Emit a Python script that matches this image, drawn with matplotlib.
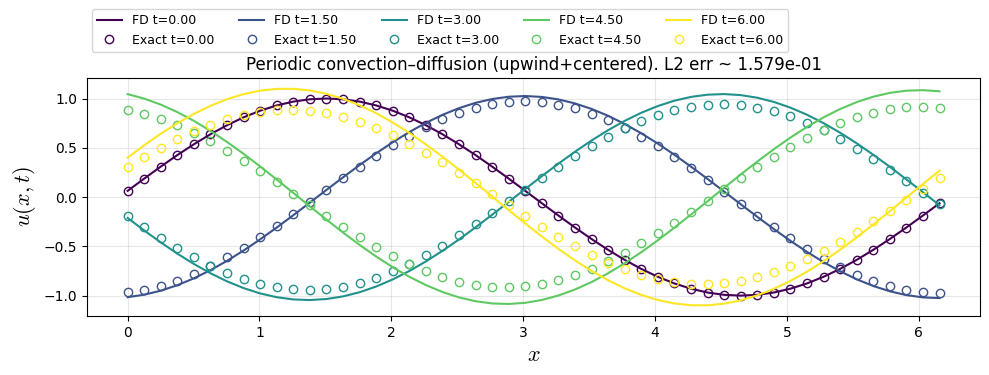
import numpy as np
import matplotlib
matplotlib.use("Agg")
import matplotlib.pyplot as plt

plt.rcParams['mathtext.fontset'] = 'cm'

# grid: 50 points on [0, 2pi)
n_pts = 50
x = np.arange(n_pts) * (2 * np.pi / n_pts)

times = [0.0, 1.5, 3.0, 4.5, 6.0]

# values, first half of the period (i = 0..24);
# second half (i = 25..49) is the same with the sign flipped
exact_half = {
    0.0: [0.0628, 0.1874, 0.3090, 0.4258, 0.5358, 0.6374, 0.7290, 0.8090, 0.8763,
          0.9298, 0.9686, 0.9921, 1.0000, 0.9921, 0.9686, 0.9298, 0.8763, 0.8090,
          0.7290, 0.6374, 0.5358, 0.4258, 0.3090, 0.1874, 0.0628],
    1.5: [-0.9618, -0.9380, -0.8995, -0.8467, -0.7806, -0.7021, -0.6126, -0.5135,
          -0.4062, -0.2925, -0.1743, -0.0532, 0.0687, 0.1894, 0.3072, 0.4202,
          0.5265, 0.6245, 0.7127, 0.7897, 0.8541, 0.9052, 0.9419, 0.9638, 0.9704],
    3.0: [-0.1912, -0.3053, -0.4145, -0.5172, -0.6118, -0.6967, -0.7706, -0.8324,
          -0.8810, -0.9158, -0.9361, -0.9416, -0.9323, -0.9083, -0.8700, -0.8180,
          -0.7530, -0.6762, -0.5887, -0.4919, -0.3874, -0.2767, -0.1617, -0.0442,
          0.0741],
    4.5: [0.8795, 0.8415, 0.7901, 0.7264, 0.6511, 0.5656, 0.4711, 0.3693, 0.2616,
          0.1498, 0.0356, -0.0792, -0.1927, -0.3031, -0.4088, -0.5080, -0.5992,
          -0.6810, -0.7520, -0.8112, -0.8576, -0.8904, -0.9092, -0.9137, -0.9037],
    6.0: [0.3008, 0.4030, 0.4989, 0.5868, 0.6656, 0.7338, 0.7904, 0.8346, 0.8656,
          0.8830, 0.8865, 0.8759, 0.8516, 0.8138, 0.7632, 0.7006, 0.6269, 0.5433,
          0.4511, 0.3519, 0.2471, 0.1384, 0.0275, -0.0839, -0.1939],
}

fd_half = {
    0.0: [0.0628, 0.1874, 0.3090, 0.4258, 0.5358, 0.6374, 0.7290, 0.8090, 0.8763,
          0.9298, 0.9686, 0.9921, 1.0000, 0.9921, 0.9686, 0.9298, 0.8763, 0.8090,
          0.7290, 0.6374, 0.5358, 0.4258, 0.3090, 0.1874, 0.0628],
    1.5: [-1.0159, -0.9908, -0.9500, -0.8943, -0.8244, -0.7416, -0.6471, -0.5423,
          -0.4290, -0.3090, -0.1840, -0.0562, 0.0725, 0.2001, 0.3245, 0.4438,
          0.5561, 0.6596, 0.7528, 0.8340, 0.9022, 0.9560, 0.9948, 1.0179, 1.0250],
    3.0: [-0.2121, -0.3387, -0.4599, -0.5739, -0.6788, -0.7731, -0.8551, -0.9236,
          -0.9776, -1.0162, -1.0387, -1.0449, -1.0345, -1.0079, -0.9654, -0.9076,
          -0.8355, -0.7503, -0.6532, -0.5458, -0.4298, -0.3071, -0.1794, -0.0490,
          0.0822],
    4.5: [1.0442, 0.9990, 0.9380, 0.8623, 0.7730, 0.6714, 0.5593, 0.4384, 0.3105,
          0.1778, 0.0422, -0.0940, -0.2287, -0.3599, -0.4853, -0.6031, -0.7114,
          -0.8085, -0.8928, -0.9630, -1.0181, -1.0570, -1.0794, -1.0847, -1.0729],
    6.0: [0.4000, 0.5253, 0.6423, 0.7491, 0.8442, 0.9259, 0.9931, 1.0445, 1.0795,
          1.0975, 1.0982, 1.0815, 1.0478, 0.9976, 0.9316, 0.8509, 0.7568, 0.6508,
          0.5346, 0.4098, 0.2787, 0.1431, 0.0053, -0.1326, -0.2684],
}

l2_err = 1.579e-01


def full_period(half):
    h = np.array(half)
    return np.concatenate([h, -h])


colors = plt.cm.viridis(np.linspace(0, 1, len(times)))

fig = plt.figure(figsize=(9.89, 3.75), dpi=100)
ax = fig.add_axes([0.088, 0.157, 0.903, 0.635])

for t, c in zip(times, colors):
    ax.plot(x, full_period(fd_half[t]), color=c, lw=1.5, label=f"FD t={t:.2f}")
    ax.plot(x, full_period(exact_half[t]), 'o', mfc='none', mec=c, ms=6,
            label=f"Exact t={t:.2f}")

ax.set_title(f"Periodic convection\u2013diffusion (upwind+centered). L2 err ~ {l2_err:.3e}",
             fontsize=12)
ax.set_xlabel("$x$", fontsize=16)
ax.set_ylabel("$u(x,t)$", fontsize=16)
ax.grid(True, alpha=0.3)

fig.legend(*ax.get_legend_handles_labels(), ncol=5, fontsize=9,
           loc='upper left', bbox_to_anchor=(0.093, 0.975), borderaxespad=0)

fig.savefig("out.png", dpi=100)
